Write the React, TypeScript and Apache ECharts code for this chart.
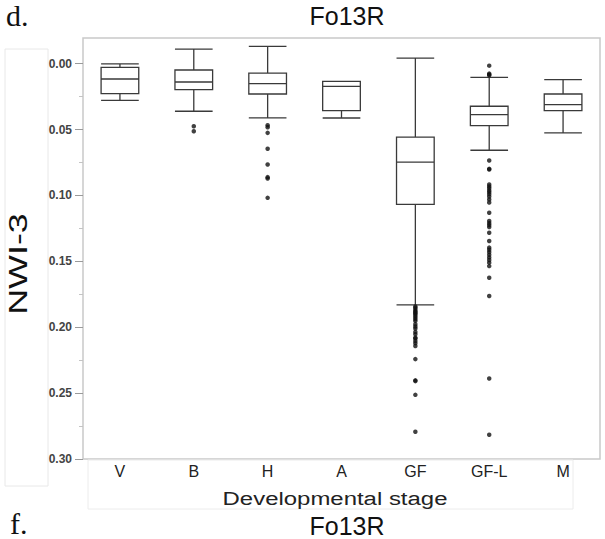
import React, { useEffect, useRef } from "react";
import * as echarts from "echarts";

// Developmental stages along the x axis
const stages = ["V", "B", "H", "A", "GF", "GF-L", "M"];

// Box statistics per stage: [lower whisker, Q1, median, Q3, upper whisker]
const boxV = [0.0002, 0.0028, 0.0116, 0.0227, 0.0278];
const boxB = [-0.0111, 0.0048, 0.0139, 0.0197, 0.0361];
const boxH = [-0.0131, 0.0071, 0.0152, 0.023, 0.0411];
const boxA = [0.0134, 0.0134, 0.0172, 0.0356, 0.0412];
const boxGF = [-0.0043, 0.0558, 0.0747, 0.1068, 0.1831];
const boxGFL = [0.0104, 0.0323, 0.0386, 0.047, 0.0657];
const boxM = [0.0121, 0.023, 0.0311, 0.0356, 0.0525];

// Outlying observations per stage
const outB = [0.0475, 0.0513];
const outH = [0.0467, 0.0482, 0.0525, 0.0646, 0.0765, 0.0861, 0.0871, 0.1018];
const outGF = [
  0.1842, 0.1851, 0.1863, 0.1876, 0.1884, 0.1893, 0.1902, 0.1915, 0.1927,
  0.194, 0.1952, 0.1977, 0.1995, 0.201, 0.2036, 0.2053, 0.2079, 0.2086,
  0.2104, 0.2121, 0.2142, 0.2242, 0.2403, 0.2409, 0.2513, 0.2793,
];
const outGFL = [
  0.0015, 0.0075, 0.0083, 0.0088, 0.0735, 0.0798, 0.0803, 0.0917, 0.0932,
  0.0945, 0.0962, 0.0975, 0.099, 0.1008, 0.103, 0.1053, 0.1131, 0.1194,
  0.121, 0.1225, 0.124, 0.1283, 0.1346, 0.1396, 0.1412, 0.143, 0.145, 0.147,
  0.149, 0.151, 0.1536, 0.1624, 0.1763, 0.2389, 0.2816,
];

// Axis ticks
const yMajorTicks = [0, 0.05, 0.1, 0.15, 0.2, 0.25, 0.3];
const yMinorTicks = [0.025, 0.075, 0.125, 0.175, 0.225, 0.275];

const SANS = "Liberation Sans, Arial, Helvetica, sans-serif";
const SERIF = "Liberation Serif, Times New Roman, serif";

export default function App() {
  const ref = useRef<HTMLDivElement>(null);

  useEffect(() => {
    if (!ref.current) return;
    const chart = echarts.init(ref.current, null, { renderer: "svg" });

    const boxes = [boxV, boxB, boxH, boxA, boxGF, boxGFL, boxM];
    const outliers: [string, number][] = [];
    const addOut = (stage: string, vals: number[]) =>
      vals.forEach((v) => outliers.push([stage, v]));
    addOut("B", outB);
    addOut("H", outH);
    addOut("GF", outGF);
    addOut("GF-L", outGFL);

    const yRange = { min: -0.0195, max: 0.3, inverse: true };

    const centered = (text: string, font: string, fill = "#111") => ({
      text,
      font,
      fill,
      align: "center",
      verticalAlign: "middle",
    });

    chart.setOption({
      animation: false,
      backgroundColor: "#fff",
      grid: {
        left: 83,
        right: 5,
        top: 38,
        bottom: 80,
        show: true,
        borderColor: "#c9c9c9",
        borderWidth: 1.5,
        backgroundColor: "#fff",
      },
      xAxis: {
        type: "category",
        data: stages,
        boundaryGap: true,
        axisLine: { show: false },
        axisTick: { show: false },
        axisLabel: {
          color: "#222",
          fontFamily: SANS,
          fontSize: 16,
          margin: 4,
        },
      },
      yAxis: [
        {
          type: "value",
          ...yRange,
          axisLine: { show: false },
          splitLine: { show: false },
          axisTick: {
            show: true,
            length: 8,
            lineStyle: { color: "#9a9a9a", width: 1 },
            customValues: yMajorTicks,
          },
          axisLabel: {
            color: "#444",
            fontFamily: SANS,
            fontWeight: "bold",
            fontSize: 12,
            margin: 11,
            customValues: yMajorTicks,
            formatter: (v: number) => v.toFixed(2),
          },
        },
        {
          type: "value",
          ...yRange,
          position: "left",
          axisLine: { show: false },
          splitLine: { show: false },
          axisLabel: { show: false },
          axisTick: {
            show: true,
            length: 4,
            lineStyle: { color: "#c4c4c4", width: 1 },
            customValues: yMinorTicks,
          },
        },
      ],
      series: [
        {
          type: "boxplot",
          data: boxes,
          boxWidth: ["51%", "51%"],
          itemStyle: { color: "#fff", borderColor: "#3a3a3a", borderWidth: 1.3 },
        },
        {
          type: "scatter",
          data: outliers,
          symbol: "circle",
          symbolSize: 4.5,
          itemStyle: { color: "#111" },
          z: 3,
        },
      ],
      graphic: [
        // faint layout frames around the axis titles
        {
          type: "rect",
          shape: { x: 5, y: 49, width: 43, height: 437 },
          style: { fill: "none", stroke: "#e8e8e8", lineWidth: 1 },
          silent: true,
        },
        {
          type: "rect",
          shape: { x: 88, y: 460, width: 485, height: 49 },
          style: { fill: "none", stroke: "#ececec", lineWidth: 1 },
          silent: true,
        },
        {
          type: "text",
          x: 6,
          y: 15,
          style: { text: "d.", font: `30px ${SERIF}`, fill: "#111", verticalAlign: "middle" },
        },
        {
          type: "text",
          x: 347,
          y: 15.5,
          style: centered("Fo13R", `25px ${SANS}`),
        },
        {
          type: "text",
          x: 18,
          y: 264,
          rotation: Math.PI / 2,
          scaleX: 1.38,
          style: centered("NWI-3", `26px ${SANS}`),
        },
        {
          type: "text",
          x: 335,
          y: 498,
          scaleX: 1.26,
          style: centered("Developmental stage", `19px ${SANS}`, "#222"),
        },
        {
          type: "text",
          x: 10,
          y: 523,
          style: { text: "f.", font: `30px ${SERIF}`, fill: "#111", verticalAlign: "middle" },
        },
        {
          type: "text",
          x: 347,
          y: 526,
          style: centered("Fo13R", `25px ${SANS}`),
        },
      ],
    });

    return () => chart.dispose();
  }, []);

  return (
    <div
      ref={ref}
      style={{ position: "fixed", left: 0, top: 0, width: 605, height: 539 }}
    />
  );
}
